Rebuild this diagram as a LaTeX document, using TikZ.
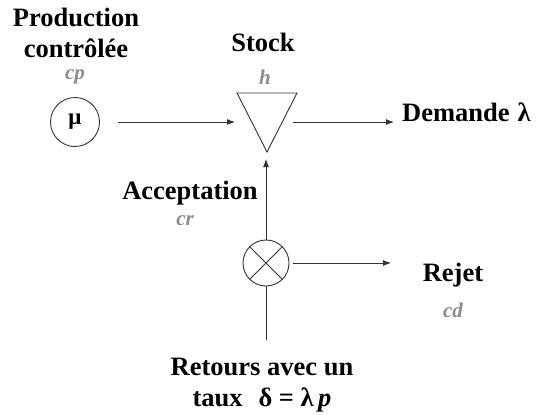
\documentclass[tikz,border=0pt]{standalone}
\usepackage{fontspec}
\setmainfont{Liberation Serif}
\usetikzlibrary{arrows.meta}
\definecolor{lblgray}{gray}{0.55}
\definecolor{linegray}{gray}{0.2}
\tikzset{
  lbl/.style={font=\fontsize{26.5}{30}\selectfont\bfseries, inner sep=0pt, align=center},
  cost/.style={font=\fontsize{21}{24}\selectfont\bfseries\itshape, text=lblgray, inner sep=0pt},
  flow/.style={draw=linegray, line width=0.9pt, -{Latex[length=8pt,width=6pt]}},
  plain/.style={draw=linegray, line width=0.9pt},
  elem/.style={draw=linegray, line width=0.9pt, circle, minimum size=49pt, inner sep=0pt}
}
\begin{document}
\begin{tikzpicture}[x=1pt,y=-1pt]
\useasboundingbox (0,0) rectangle (549,415);
% production
\node[lbl] (prod) at (76,33) {Production\\[1pt]contrôlée};
\node[cost] (cp) at (75,77) {cp};
\node[elem, font=\fontsize{23}{24}\selectfont\bfseries] (mu) at (75,122) {μ};
% stock
\node[lbl] (stocklbl) at (263,42) {Stock};
\node[cost] (h) at (265,77) {h};
\coordinate (tA) at (237,93);
\coordinate (tB) at (297,93);
\coordinate (tC) at (267,152);
\draw[plain] (tA) -- (tB) -- (tC) -- cycle;
\coordinate (stockin) at (235,122);
\coordinate (stockout) at (293,122);
\coordinate (stockbot) at (266,159);
% demand
\node[lbl, anchor=west] (dem) at (402,112) {Demande\hspace{0.3em}λ};
\coordinate (demin) at (394,122);
% acceptance
\node[lbl] (acc) at (190,193) {Acceptation};
\node[cost] (cr) at (185,221) {cr};
% mixer
\node[elem, minimum size=46pt] (mix) at (266,263) {};
\draw[plain] (mix.north west) -- (mix.south east);
\draw[plain] (mix.north east) -- (mix.south west);
% reject
\node[lbl] (rej) at (453,275) {Rejet};
\node[cost] (cd) at (453,310) {cd};
\coordinate (rejin) at (391,263);
% returns
\node[lbl] (ret) at (262,385) {Retours avec un\\[1pt]taux\hspace{0.6em}δ = λ\,\textit{p}};
\coordinate (retend) at (266,340);
% connectors
\draw[flow] ([xshift=18pt]mu.east) -- (stockin);
\draw[flow] (stockout) -- (demin);
\draw[flow] (mix.north) -- (stockbot);
\draw[flow] ([xshift=4pt]mix.east) -- (rejin);
\draw[plain] (retend) -- (mix.south);
\end{tikzpicture}
\end{document}
